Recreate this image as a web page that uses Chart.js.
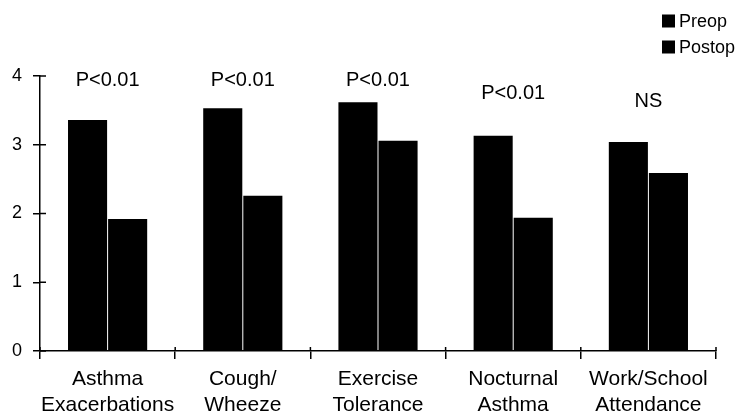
<!DOCTYPE html>
<html>
<head>
<meta charset="utf-8">
<script src="https://cdn.jsdelivr.net/npm/chart.js@4.4.0/dist/chart.umd.min.js"></script>
<style>
html,body{margin:0;padding:0;background:#fff;}
#wrap{width:746px;height:411px;position:relative;}
</style>
</head>
<body>
<div id="wrap"><canvas id="c" width="746" height="411"></canvas></div>
<script>
const categories = [["Asthma","Exacerbations"],["Cough/","Wheeze"],["Exercise","Tolerance"],["Nocturnal","Asthma"],["Work/School","Attendance"]];
const preop = [3.36, 3.53, 3.62, 3.13, 3.04];
const postop = [1.92, 2.26, 3.06, 1.94, 2.59];
const seriesNames = ["Preop", "Postop"];
const pLabels = ["P<0.01", "P<0.01", "P<0.01", "P<0.01", "NS"];
const pLabelValues = [3.93, 3.93, 3.94, 3.75, 3.63];
const yTicks = [0, 1, 2, 3, 4];

const FONT = "'Liberation Sans', Arial, Helvetica, sans-serif";

const annotPlugin = {
  id: 'annot',
  afterDatasetsDraw(chart) {
    const ctx = chart.ctx, xs = chart.scales.x, ys = chart.scales.y;
    ctx.save();
    ctx.fillStyle = '#000';
    ctx.font = '20px ' + FONT;
    ctx.textAlign = 'center';
    ctx.textBaseline = 'middle';
    pLabels.forEach((t, i) => {
      ctx.fillText(t, xs.getPixelForValue(i), ys.getPixelForValue(pLabelValues[i]));
    });
    // inner tick stubs on y axis
    ctx.strokeStyle = '#000';
    ctx.lineWidth = 1.5;
    yTicks.forEach(v => {
      const y = ys.getPixelForValue(v);
      ctx.beginPath(); ctx.moveTo(xs.left, y); ctx.lineTo(xs.left + 6, y); ctx.stroke();
    });
    // x boundary stubs above axis
    for (let i = 0; i <= categories.length; i++) {
      const x = xs.left + (xs.right - xs.left) * i / categories.length;
      ctx.beginPath(); ctx.moveTo(x, ys.bottom); ctx.lineTo(x, ys.bottom - 4); ctx.stroke();
    }
    // legend
    ctx.textAlign = 'left';
    ctx.font = '18px ' + FONT;
    chart.data.datasets.forEach((ds, i) => {
      const yc = 21 + i * 26;
      ctx.fillStyle = ds.backgroundColor;
      ctx.fillRect(662, yc - 6.5, 13, 13);
      ctx.fillStyle = '#000';
      ctx.fillText(ds.label, 679, yc + 1);
    });
    ctx.restore();
  }
};

new Chart(document.getElementById('c'), {
  type: 'bar',
  data: {
    labels: categories,
    datasets: [
      { label: seriesNames[0], data: preop, backgroundColor: '#000', borderWidth: 0 },
      { label: seriesNames[1], data: postop, backgroundColor: '#000', borderWidth: 0 }
    ]
  },
  options: {
    responsive: false,
    animation: false,
    layout: { padding: { top: 76, right: 30, left: 0, bottom: 0 } },
    datasets: { bar: { categoryPercentage: 0.593, barPercentage: 0.975 } },
    plugins: { legend: { display: false }, tooltip: { enabled: false } },
    scales: {
      x: {
        offset: true,
        grid: { offset: true, drawOnChartArea: false, color: '#000', lineWidth: 1.5, tickLength: 8 },
        border: { color: '#000', width: 1.5 },
        ticks: { color: '#000', font: { family: FONT, size: 21, lineHeight: 1.2 }, padding: 8, maxRotation: 0, autoSkip: false },
        afterFit(s) { s.height = 60; }
      },
      y: {
        min: 0, max: 4,
        afterBuildTicks(s) { s.ticks = yTicks.map(v => ({ value: v })); },
        grid: { drawOnChartArea: false, color: '#000', lineWidth: 1.5, tickLength: 7 },
        border: { color: '#000', width: 1.5 },
        ticks: { color: '#000', font: { family: FONT, size: 18 }, padding: 11 },
        afterFit(s) { s.width = 40; }
      }
    }
  },
  plugins: [annotPlugin]
});
</script>
</body>
</html>
